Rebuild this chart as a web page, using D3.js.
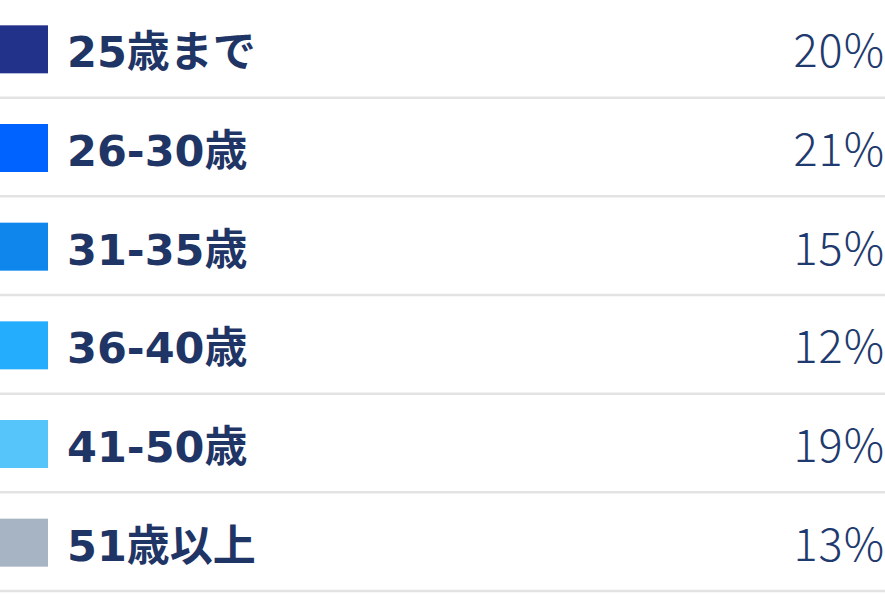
<!DOCTYPE html>
<html>
  <head>
    <meta charset="utf-8" />
    <script src="https://d3js.org/d3.v7.min.js"></script>
    <style>
      body { margin: 0; background: #fff; }
      .label {
        font-family: "DejaVu Sans", "Noto Sans CJK JP", sans-serif;
        font-weight: 700;
        font-size: 43px;
        fill: #1f3566;
      }
      .value {
        font-family: "Noto Sans CJK JP", sans-serif;
        font-weight: 300;
        font-size: 45px;
        fill: #1f3a6e;
        text-anchor: end;
        letter-spacing: 1px;
      }
      .sep { stroke: #e3e3e3; stroke-width: 2.5px; }
    </style>
  </head>
  <body>
    <svg width="885" height="594"></svg>
    <script>
      const categories = ["25歳まで", "26-30歳", "31-35歳", "36-40歳", "41-50歳", "51歳以上"];
      const values = [20, 21, 15, 12, 19, 13];
      const colors = ["#22328a", "#0062ff", "#0e86ec", "#24adfd", "#55c5fa", "#a6b4c3"];

      const svg = d3.select("svg");
      const width = 885;

      const y = d3.scaleBand().domain(categories).range([0, 592]);
      const color = d3.scaleOrdinal().domain(categories).range(colors);
      const rows = categories.map((c, i) => ({ name: c, value: values[i] }));

      const g = svg.selectAll(".row")
        .data(rows)
        .enter()
        .append("g")
        .attr("class", "row")
        .attr("transform", (d) => `translate(0,${y(d.name)})`);

      // 色見本
      g.append("rect")
        .attr("x", 0)
        .attr("y", y.bandwidth() / 2 - 24)
        .attr("width", 48)
        .attr("height", 48)
        .attr("fill", (d) => color(d.name));

      g.append("text")
        .attr("class", "label")
        .attr("x", 67)
        .attr("y", y.bandwidth() / 2 + 18)
        .text((d) => d.name);

      g.append("text")
        .attr("class", "value")
        .attr("x", 885)
        .attr("y", y.bandwidth() / 2 + 18)
        .text((d) => d.value + "%");

      g.append("line")
        .attr("class", "sep")
        .attr("x1", 0)
        .attr("x2", width)
        .attr("y1", y.bandwidth() - 1)
        .attr("y2", y.bandwidth() - 1);
    </script>
  </body>
</html>
